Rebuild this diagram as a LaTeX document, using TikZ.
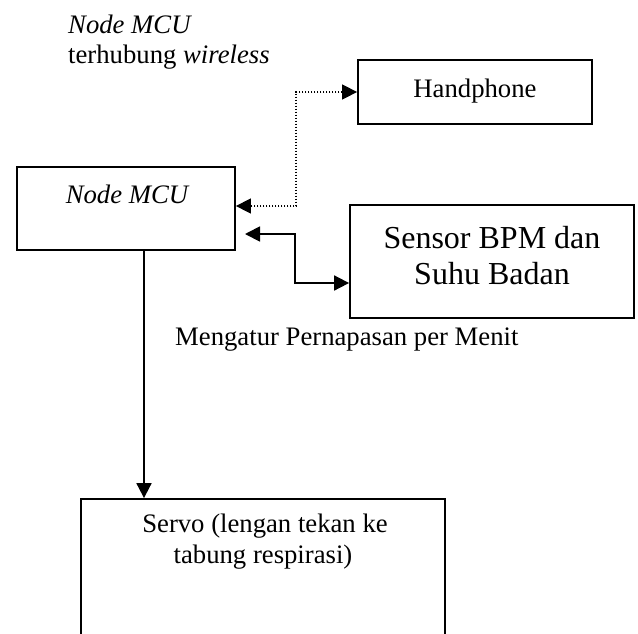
\documentclass[tikz,border=0pt]{standalone}
\usepackage{fontspec}
\setmainfont{Liberation Serif}
\usetikzlibrary{arrows.meta}
\tikzset{
  box/.style={draw, line width=1.8pt, inner sep=0pt},
  normaltxt/.style={font=\fontsize{26.7pt}{30pt}\selectfont, inner sep=0pt, anchor=base},
  bigtxt/.style={font=\fontsize{32pt}{36pt}\selectfont, inner sep=0pt, anchor=base},
  onetip/.style={line width=1.8pt, -{Triangle[length=15pt,width=15pt]}},
  twotip/.style={line width=1.8pt, {Triangle[length=15pt,width=15pt]}-{Triangle[length=15pt,width=15pt]}},
  dottwotip/.style={line width=1.5pt, dash pattern=on 1.5pt off 1.5pt, {Triangle[length=15pt,width=15pt]}-{Triangle[length=15pt,width=15pt]}},
}
\begin{document}
\begin{tikzpicture}[x=1pt,y=-1pt]
\useasboundingbox (0,0) rectangle (638,633);
\clip (0,0) rectangle (638,633);
% boxes
\node[box, minimum width=218pt, minimum height=83pt] (mcu) at (126,208.5) {};
\node[box, minimum width=234pt, minimum height=64pt] (hp) at (475,92) {};
\node[box, minimum width=284pt, minimum height=113pt] (sensor) at (492,261.5) {};
\node[box, minimum width=364pt, minimum height=181pt] (servo) at (263,589.5) {};
% texts
\node[normaltxt, anchor=base west] (t1) at (68,33) {\itshape Node MCU};
\node[normaltxt, anchor=base west] (t2) at (68,63) {terhubung \itshape wireless};
\node[normaltxt] (mcut) at (127,203) {\itshape Node MCU};
\node[normaltxt] (hpt) at (475,97) {Handphone};
\node[bigtxt] (st1) at (492,248) {Sensor BPM dan};
\node[bigtxt] (st2) at (492,284) {Suhu Badan};
\node[normaltxt, anchor=base west] (lbl) at (175,345) {Mengatur Pernapasan per Menit};
\node[normaltxt] (sv1) at (265,532) {Servo (lengan tekan ke};
\node[normaltxt] (sv2) at (263,563) {tabung respirasi)};
% connectors
\coordinate (dc1) at (296,92);
\coordinate (dc2) at (296,206);
\draw[dottwotip] (hp.west) -- (dc1) -- (dc2) -- (mcu.east |- dc2);
\coordinate (gap) at (245,234);
\coordinate (sc1) at (295,234);
\coordinate (sc2) at (295,283);
\draw[twotip] (gap) -- (sc1) -- (sc2) -- (sensor.west |- sc2);
\coordinate (vx) at (144,0);
\draw[onetip] (mcu.south -| vx) -- (servo.north -| vx);
\end{tikzpicture}
\end{document}
